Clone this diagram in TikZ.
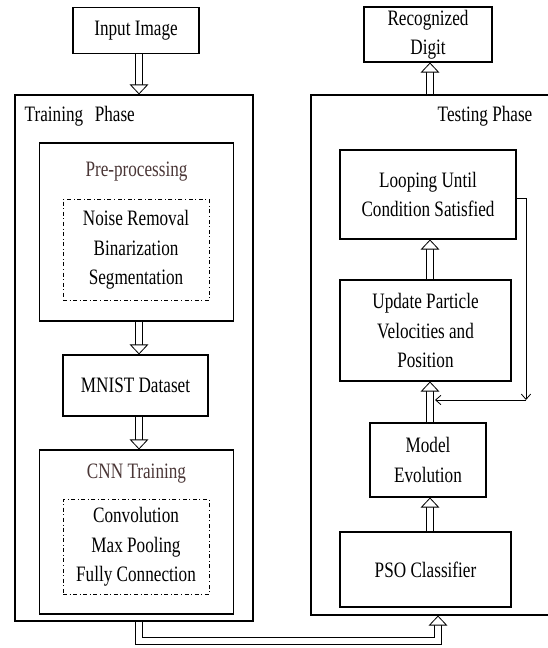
\documentclass[tikz,border=0pt]{standalone}
\usepackage{fontspec}
\setmainfont{Liberation Serif}[FakeStretch=0.78]
\usetikzlibrary{arrows.meta,positioning}
\definecolor{titleBrown}{RGB}{74,54,54}

\begin{document}
\begin{tikzpicture}[x=0.75pt,y=-0.75pt,
  font=\fontsize{16.5}{22}\selectfont,
  box/.style={draw,line width=.8pt,align=center,inner sep=0pt},
  dashbox/.style={draw,line width=.6pt,dash dot,inner sep=0pt},
  phase/.style={draw,line width=.8pt,inner sep=0pt},
  hollow/.style={draw,line width=.6pt,double,double distance=4.6pt,
    -{Triangle[open,fill=white,length=7.5pt,width=14pt]}},
  loopline/.style={draw,line width=.6pt,-{Straight Barb[length=4pt,width=7pt]}}]
\useasboundingbox (0,0) rectangle (547,648);

% training side
\node[box,minimum width=94.5pt,minimum height=35pt] (input) at (136,30.5) {Input Image};
\node[phase,minimum width=178.5pt,minimum height=394.5pt] (train) at (134,358) {};
\node[anchor=west] at (20,116) {Training\,\, Phase};
\node[box,minimum width=146pt,minimum height=133.5pt] (pre) at (136.5,232) {};
\node[text=titleBrown] (pretitle) at (136.5,172) {Pre-processing};
\node[dashbox,minimum width=109.5pt,minimum height=75.75pt,align=center] (predash) at (136,250)
  {Noise Removal\\Binarization\\Segmentation};
\node[box,minimum width=108.75pt,minimum height=45.75pt] (mnist) at (135.5,385.5) {MNIST Dataset};
\node[box,minimum width=146pt,minimum height=123pt] (cnn) at (136.5,532) {};
\node[text=titleBrown] (cnntitle) at (136.5,474) {CNN Training};
\node[dashbox,minimum width=109.5pt,minimum height=71.25pt,align=center] (cnndash) at (136,547)
  {Convolution\\Max Pooling\\Fully Connection};

% testing side
\node[phase,minimum width=180pt,minimum height=390pt] (test) at (431,355) {};
\node[anchor=east] at (537,116) {Testing Phase};
\node[box,minimum width=96pt,minimum height=41.25pt] (recog) at (428,34.5) {Recognized\\Digit};
\node[box,minimum width=132pt,minimum height=66.75pt] (loop) at (428,194.5) {Looping Until\\Condition Satisfied};
\node[box,minimum width=128.25pt,minimum height=75.75pt] (update) at (425.5,330.5) {Update Particle\\Velocities and\\Position};
\node[box,minimum width=87pt,minimum height=55.5pt] (model) at (428,460) {Model\\Evolution};
\node[box,minimum width=128.25pt,minimum height=56.25pt] (pso) at (425.5,569.5) {PSO Classifier};

\coordinate (turn) at (526,400);
\coordinate (hit) at (435,400);
\coordinate (low) at (139,641);

% connectors
\draw[hollow] (input.south -| 139,0) -- (train.north -| 139,0);
\draw[hollow] (pre.south -| 139,0) -- (mnist.north -| 139,0);
\draw[hollow] (mnist.south -| 139,0) -- (cnn.north -| 139,0);
\draw[hollow] (train.south -| 139,0) -- (low) -| (test.south -| 438,0);
\draw[hollow] (pso.north -| 430,0) -- (model.south -| 430,0);
\draw[hollow] (model.north -| 430,0) -- (update.south -| 430,0);
\draw[hollow] (update.north -| 430,0) -- (loop.south -| 430,0);
\draw[hollow] (test.north -| 430,0) -- (recog.south -| 430,0);
\draw[loopline] (loop.east |- 0,198) -| (turn);
\draw[loopline] (turn) -- (hit);
\end{tikzpicture}
\end{document}
